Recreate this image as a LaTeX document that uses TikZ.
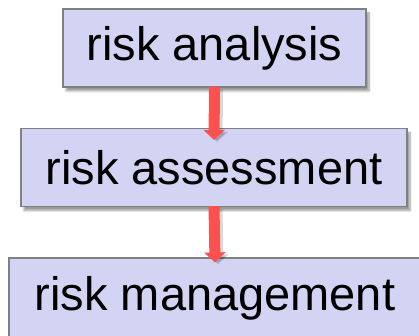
\documentclass[tikz,border=0pt]{standalone}
\usepackage{fontspec}
\setmainfont{Liberation Sans}
\usetikzlibrary{arrows.meta,shadows.blur}
\definecolor{boxfill}{HTML}{D3D3F3}
\definecolor{boxline}{HTML}{808080}
\definecolor{arrred}{HTML}{FF5050}
\begin{document}
\begin{tikzpicture}[x=1pt,y=1pt,
  riskbox/.style={draw=boxline, line width=1.2pt, fill=boxfill, minimum height=78pt,
    inner sep=0pt, font=\fontsize{47}{47}\selectfont,
    blur shadow={shadow xshift=3pt, shadow yshift=-4pt, shadow blur steps=6, shadow opacity=40}},
  flowarrow/.style={draw=arrred, line width=11pt, -{Triangle[width=21pt,length=10pt]}},
  arrowshade/.style={draw=black, opacity=0.15, line width=11pt, -{Triangle[width=21pt,length=10pt]}}]
\useasboundingbox (0,0) rectangle (419,-336);
\node[riskbox, minimum width=303pt] (a) at (214.5,-48) {risk analysis};
\node[riskbox, minimum width=386pt] (b) at (214,-167.5) {risk assessment};
\node[riskbox, minimum width=412pt, minimum height=80pt] (c) at (215,-298) {risk management};
\draw[arrowshade] ([xshift=3pt,yshift=-2pt]a.south) -- ([xshift=3pt,yshift=-14pt]b.north);
\draw[arrowshade] ([xshift=3pt,yshift=-2pt]b.south) -- ([xshift=3pt,yshift=-7pt]c.north);
\draw[flowarrow] ([yshift=1pt]a.south) -- ([yshift=-12pt]b.north);
\draw[flowarrow] ([yshift=1pt]b.south) -- ([yshift=-5pt]c.north);
\end{tikzpicture}
\end{document}
